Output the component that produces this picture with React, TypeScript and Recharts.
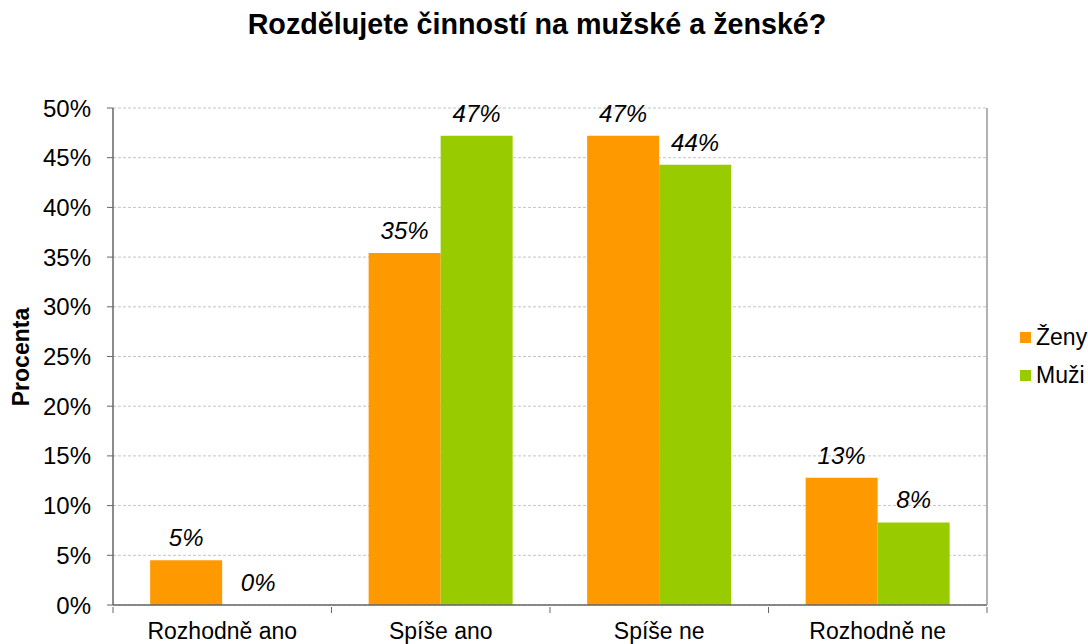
import { Bar, BarChart, CartesianGrid, LabelList, XAxis, YAxis } from "recharts";

const categories = ["Rozhodně ano", "Spíše ano", "Spíše ne", "Rozhodně ne"];
const zeny = [4.5, 35.4, 47.2, 12.8];
const muzi = [0, 47.2, 44.3, 8.3];
const yTicks = [0, 5, 10, 15, 20, 25, 30, 35, 40, 45, 50];

const ORANGE = "#FF9900";
const GREEN = "#99CC00";
const FONT = "'Liberation Sans', Arial, sans-serif";

const data = categories.map((name, i) => ({ name, zeny: zeny[i], muzi: muzi[i] }));

// half of one category band, so tick marks sit between categories like Excel
const HALF_BAND = (987 - 113) / categories.length / 2;

function CategoryTick(props: any) {
  const { x, y, payload, index } = props;
  return (
    <g>
      <line x1={x - HALF_BAND} x2={x - HALF_BAND} y1={y - 6} y2={y} stroke="#666" />
      {index === categories.length - 1 && (
        <line x1={x + HALF_BAND} x2={x + HALF_BAND} y1={y - 6} y2={y} stroke="#666" />
      )}
      <text x={x} y={y + 26} textAnchor="middle" fontSize={23} fill="#000" fontFamily={FONT}>
        {payload.value}
      </text>
    </g>
  );
}

const pct = (v: any) => `${Math.round(Number(v))}%`;

const labelStyle = { fontSize: 24, fontStyle: "italic", fill: "#000", fontFamily: FONT };

export default function App() {
  return (
    <div style={{ position: "absolute", left: 0, top: 0, width: 1088, height: 644, background: "#fff", fontFamily: FONT }}>
      <div
        style={{
          position: "absolute",
          top: 8,
          left: 537,
          transform: "translateX(-50%)",
          fontSize: 28.7,
          fontWeight: "bold",
          whiteSpace: "nowrap",
        }}
      >
        Rozdělujete činností na mužské a ženské?
      </div>
      <div
        style={{
          position: "absolute",
          left: 21,
          top: 357,
          transform: "translate(-50%, -50%) rotate(-90deg)",
          fontSize: 23,
          fontWeight: "bold",
          whiteSpace: "nowrap",
        }}
      >
        Procenta
      </div>
      <div style={{ position: "absolute", left: 1020, top: 323, fontSize: 23, lineHeight: "28px" }}>
        <div style={{ display: "flex", alignItems: "center", marginBottom: 10 }}>
          <span style={{ width: 11, height: 11, background: ORANGE, marginRight: 5 }} />
          Ženy
        </div>
        <div style={{ display: "flex", alignItems: "center" }}>
          <span style={{ width: 11, height: 11, background: GREEN, marginRight: 5 }} />
          Muži
        </div>
      </div>
      <BarChart
        width={1088}
        height={644}
        data={data}
        margin={{ top: 108, right: 100, bottom: 0, left: 0 }}
        barCategoryGap="17%"
        barGap={0}
      >
        <CartesianGrid vertical={false} stroke="#c4c4c4" strokeDasharray="3 2" />
        <XAxis
          dataKey="name"
          tickLine={false}
          axisLine={{ stroke: "#666", strokeWidth: 1.5 }}
          tick={<CategoryTick />}
          height={39}
          interval={0}
        />
        <YAxis
          domain={[0, 50]}
          ticks={yTicks}
          interval={0}
          tickFormatter={(v) => `${v}%`}
          width={113}
          axisLine={{ stroke: "#666", strokeWidth: 1.5 }}
          tickLine={{ stroke: "#666" }}
          tickSize={6}
          tickMargin={16}
          tick={{ fontSize: 24, fill: "#000", fontFamily: FONT }}
        />
        <YAxis
          yAxisId="right"
          orientation="right"
          domain={[0, 50]}
          width={1}
          tick={false}
          tickLine={false}
          axisLine={{ stroke: "#999", strokeWidth: 1.5 }}
        />
        <XAxis
          xAxisId="top"
          orientation="top"
          dataKey="name"
          height={0}
          tick={false}
          tickLine={false}
          axisLine={{ stroke: "#999", strokeWidth: 1.5 }}
        />
        <Bar dataKey="zeny" name="Ženy" fill={ORANGE} isAnimationActive={false}>
          <LabelList dataKey="zeny" position="top" offset={14} formatter={pct} style={labelStyle} />
        </Bar>
        <Bar dataKey="muzi" name="Muži" fill={GREEN} minPointSize={0.01} isAnimationActive={false}>
          <LabelList dataKey="muzi" position="top" offset={14} formatter={pct} style={labelStyle} />
        </Bar>
      </BarChart>
    </div>
  );
}
